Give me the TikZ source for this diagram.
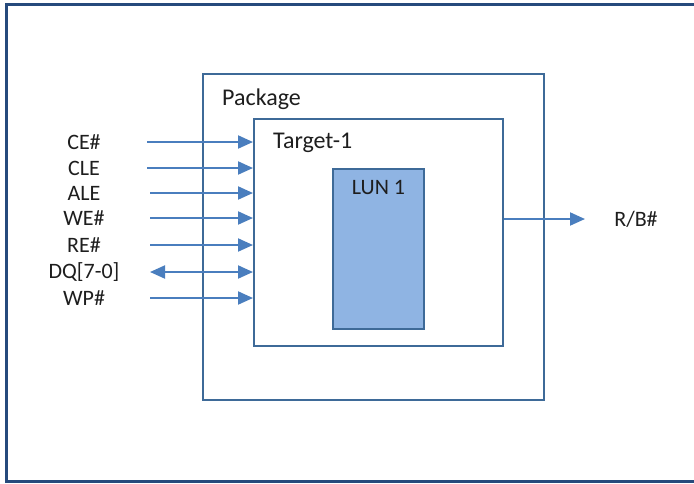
\documentclass[tikz,border=0pt]{standalone}
\usepackage{fontspec}
\setmainfont{Carlito}
\usetikzlibrary{arrows.meta}
\definecolor{framecol}{RGB}{38,74,124}
\definecolor{boxline}{RGB}{62,106,152}
\definecolor{wirecol}{RGB}{74,126,190}
\definecolor{lunfill}{RGB}{143,180,227}
\definecolor{txtcol}{RGB}{30,30,30}
\tikzset{
  blockbox/.style={draw=boxline, line width=2pt, inner sep=0pt, anchor=north west},
  siglabel/.style={font=\fontsize{22}{22}\selectfont, text=txtcol, inner sep=0pt},
  boxlabel/.style={font=\fontsize{24}{24}\selectfont, text=txtcol, inner sep=0pt, anchor=north west},
  wire/.style={draw=wirecol, line width=2pt, -{Triangle[length=15pt,width=13pt]}},
  wire2/.style={draw=wirecol, line width=2pt, {Triangle[length=15pt,width=13pt]}-{Triangle[length=15pt,width=13pt]}}
}
\begin{document}
\begin{tikzpicture}[x=1pt,y=-1pt]
\useasboundingbox (0,0) rectangle (694,483);
\fill[white] (0,0) rectangle (694,483);
% outer frame, its right side runs off the page
\draw[framecol, line width=3pt] (710,4) -- (6,4) -- (6,481) -- (710,481);

% nested blocks
\node[blockbox, minimum width=341pt, minimum height=326pt] (pkg) at (202,73) {};
\node[blockbox, minimum width=249pt, minimum height=227pt] (tgt) at (253,118) {};
\node[blockbox, fill=lunfill, minimum width=91pt, minimum height=160pt] (lun) at (332,168) {};

\node[boxlabel] (pkglbl) at (222,89) {Package};
\node[boxlabel] (tgtlbl) at (273,133) {Target-1};
\node[siglabel, anchor=north] (lunlbl) at (lun.north) [yshift=-12pt] {LUN 1};

% input signals
\foreach \name/\txt/\y/\xs in {ce/CE\#/142/147, cle/CLE/168/147, ale/ALE/193/150,
    we/WE\#/218/150, re/RE\#/245/150, wp/WP\#/298/150}{
  \node[siglabel] (\name lbl) at (84,\y) {\txt};
  \coordinate (\name) at (\xs,\y);
  \draw[wire] (\name) -- (tgt.west |- \name);
}
% bidirectional data bus
\node[siglabel] (dqlbl) at (84,272) {DQ[7-0]};
\coordinate (dq) at (150,272);
\draw[wire2] (dq) -- (tgt.west |- dq);

% ready/busy output
\node[siglabel] (rblbl) at (636,219) {R/B\#};
\coordinate (rb) at (585,219);
\draw[wire] (tgt.east |- rb) -- (rb);
\end{tikzpicture}
\end{document}
